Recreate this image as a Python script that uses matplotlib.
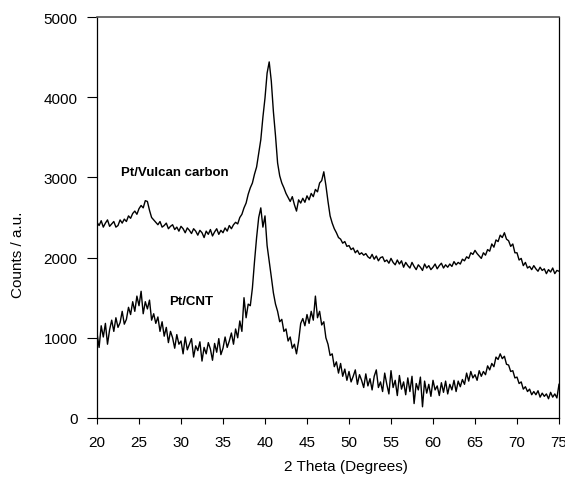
import numpy as np
import matplotlib
matplotlib.use("Agg")
import matplotlib.pyplot as plt

plt.rcParams['font.family'] = ['Liberation Sans', 'DejaVu Sans']

two_theta_start = 20.0
two_theta_step = 0.25

vulcan_counts = [
    2440, 2400, 2460, 2380, 2430, 2470, 2390, 2420,
    2450, 2380, 2400, 2470, 2430, 2480, 2450, 2520,
    2490, 2550, 2580, 2540, 2610, 2650, 2620, 2710,
    2700, 2590, 2500, 2470, 2440, 2410, 2450, 2380,
    2400, 2430, 2360, 2390, 2410, 2350, 2380, 2330,
    2390, 2360, 2310, 2370, 2340, 2300, 2360, 2330,
    2280, 2340, 2310, 2250, 2330, 2290, 2350, 2270,
    2320, 2360, 2290, 2340, 2310, 2370, 2330, 2400,
    2360, 2410, 2440, 2420, 2500, 2540, 2620, 2680,
    2790, 2870, 2930, 3040, 3130, 3300, 3470, 3750,
    3990, 4300, 4440, 4200, 3820, 3520, 3180, 3020,
    2930, 2870, 2800, 2750, 2700, 2760, 2660, 2580,
    2720, 2680, 2740, 2690, 2770, 2720, 2800, 2760,
    2850, 2820, 2930, 2960, 3070, 2900, 2700, 2520,
    2430, 2360, 2310, 2250, 2230, 2180, 2200, 2140,
    2150, 2100, 2120, 2060, 2090, 2040, 2060, 2030,
    2050, 2010, 1990, 2040, 1980, 2020, 1960, 2000,
    2010, 1950, 1970, 1930, 1990, 1940, 1910, 1970,
    1920, 1960, 1880, 1940, 1900, 1870, 1940, 1890,
    1850, 1910, 1880, 1840, 1920, 1870, 1900, 1850,
    1880, 1920, 1860, 1900, 1930, 1870, 1910, 1880,
    1920, 1890, 1950, 1910, 1940, 1920, 1980, 1960,
    2010, 1990, 2060, 2040, 2090, 2050, 2020, 1990,
    2060, 2030, 2100, 2080, 2170, 2130, 2220, 2200,
    2280, 2250, 2310, 2230, 2210, 2140, 2170, 2060,
    2060, 1970, 1990, 1900, 1940, 1870, 1890, 1850,
    1900, 1860, 1830, 1880, 1840, 1860, 1800, 1850,
    1820, 1870, 1800, 1840, 1830,
]

cnt_counts = [
    1060, 880, 1150, 1010, 1180, 920, 1100, 1220,
    1080, 1250, 1130, 1190, 1330, 1170, 1230, 1380,
    1290, 1450, 1330, 1520, 1400, 1580, 1300, 1450,
    1360, 1470, 1220, 1300, 1180, 1260, 1080, 1200,
    1020, 1130, 940, 1080, 1000, 870, 1040, 920,
    960, 800, 1010, 850, 920, 990, 760, 900,
    840, 950, 710, 880, 800, 940, 860, 720,
    930, 820, 990, 790, 870, 1010, 880, 960,
    1060, 920, 1110, 1000, 1210, 1080, 1500, 1250,
    1420, 1400, 1620, 1950, 2250, 2500, 2620, 2380,
    2520, 2150, 1960, 1760, 1560, 1420, 1330, 1200,
    1230, 1080, 1110, 960, 1010, 870, 920, 800,
    960, 1180, 1240, 1150, 1290, 1180, 1330, 1220,
    1520, 1250, 1330, 1160, 1200, 1000, 920, 780,
    800, 640, 700, 560, 680, 520, 610, 470,
    580, 450, 520, 600, 420, 540, 470, 380,
    550, 400, 490, 350, 520, 600, 380, 450,
    330, 560, 420, 300, 590, 380, 470, 280,
    530, 360, 450, 290, 500, 330, 520, 180,
    430, 350, 510, 140, 460, 310, 420, 270,
    470, 350, 400, 280, 440, 320, 460, 300,
    420, 350, 470, 330, 460, 390, 480, 420,
    560, 460, 580, 500, 540, 470, 590, 520,
    580, 540, 650, 600, 680, 640, 760, 730,
    800, 740, 770, 670, 660, 580, 590, 500,
    510, 430, 450, 360, 390, 330, 360, 290,
    330, 290, 340, 260, 310, 270, 300, 240,
    320, 260, 300, 250, 420,
]

x_ticks = [20, 25, 30, 35, 40, 45, 50, 55, 60, 65, 70, 75]
y_ticks = [0, 1000, 2000, 3000, 4000, 5000]

two_theta = two_theta_start + two_theta_step * np.arange(len(vulcan_counts))

W, H = 565, 481
fig = plt.figure(figsize=(W / 100, H / 100), dpi=100)
ax = fig.add_axes([97 / W, 1 - 419 / H, 462 / W, 401 / H])

ax.plot(two_theta, vulcan_counts, color='black', lw=1.0)
ax.plot(two_theta, cnt_counts, color='black', lw=1.0)

ax.set_xlim(20, 75)
ax.set_ylim(0, 5000)
ax.set_xticks(x_ticks)
ax.set_yticks(y_ticks)
ax.tick_params(axis='x', direction='out', length=4.5, width=0.8, pad=8, labelsize=11)
ax.tick_params(axis='y', direction='out', length=7, width=0.8, pad=7, labelsize=11)
for s in ['left', 'bottom', 'right']:
    ax.spines[s].set_color('black')
    ax.spines[s].set_linewidth(0.9)
ax.spines['top'].set_color('#555555')
ax.spines['top'].set_linewidth(1.2)

ax.text(29.3, 3070, 'Pt/Vulcan carbon', fontsize=9.5, fontweight='bold',
        ha='center', va='center')
ax.text(31.2, 1455, 'Pt/CNT', fontsize=9.5, fontweight='bold',
        ha='center', va='center')

fig.text(346 / W, 1 - 467 / H, '2 Theta (Degrees)', fontsize=11,
         ha='center', va='center')
fig.text(18 / W, 1 - 255 / H, 'Counts / a.u.', fontsize=11, rotation=90,
         ha='center', va='center')

fig.savefig('out.png', dpi=100)
